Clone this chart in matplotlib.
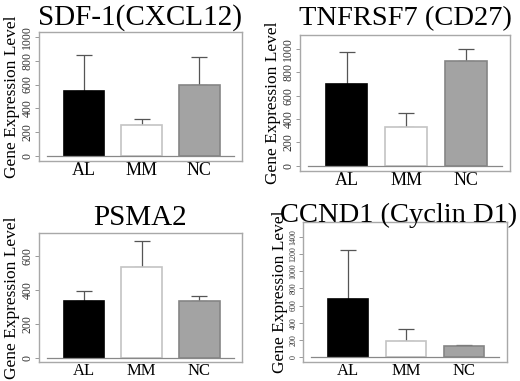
import matplotlib
matplotlib.use("Agg")
import matplotlib.pyplot as plt
import numpy as np

plt.rcParams['font.family'] = ['Liberation Serif', 'DejaVu Serif']

groups = ["AL", "MM", "NC"]

titles = ["SDF-1(CXCL12)", "TNFRSF7 (CD27)", "PSMA2", "CCND1 (Cyclin D1)"]
means = [
    [544, 261, 600],
    [700, 332, 895],
    [331, 536, 335],
    [676, 187, 129],
]
errs = [
    [306, 53, 228],
    [277, 122, 103],
    [61, 150, 25],
    [572, 145, 16],
]
yticks = [
    [0, 200, 400, 600, 800, 1000],
    [0, 200, 400, 600, 800, 1000],
    [0, 200, 400, 600],
    [0, 200, 400, 600, 800, 1000, 1200, 1400],
]
ylims = [(-40, 1040), (-45, 1120), (-26, 734), (-57, 1572)]

fills = ["black", "white", "#a3a3a3"]
edges = ["black", "#c4c4c4", "#858585"]

W, H = 520, 381
# axes boxes in pixels: left, top, right, bottom
boxes = [(39, 32, 242, 161), (300, 35, 510, 171), (39, 233, 242, 362), (303, 222, 507, 362)]
tick_sizes = [8.5, 8.5, 8.5, 5.8]
title_y = [4, 6, 205, 203]
title_x = [140, 405, 140, 399]
title_fs = [21, 20.5, 21, 20.5]
xlab_fs = [13, 13, 12, 12]

fig = plt.figure(figsize=(W / 100, H / 100), dpi=100)

for i in range(4):
    l, t, r, b = boxes[i]
    ax = fig.add_axes([l / W, (H - b) / H, (r - l) / W, (b - t) / H])
    x = np.arange(len(groups))
    ax.bar(x, means[i], width=0.7, color=fills, edgecolor=edges, linewidth=1.2, zorder=2)
    ax.errorbar(x, means[i], yerr=[np.zeros(3), errs[i]], fmt='none',
                ecolor='#555555', elinewidth=0.9, capsize=6, capthick=0.9, zorder=1)
    ax.axhline(0, xmin=0.04, xmax=0.96, color='#888888', lw=0.9, zorder=3)
    ax.set_xlim(-0.78, 2.74)
    ax.set_ylim(*ylims[i])
    ax.set_yticks(yticks[i])
    ax.set_yticklabels([str(v) for v in yticks[i]], rotation=90, va='center',
                       fontsize=tick_sizes[i], color='#333333')
    ax.set_xticks(x)
    ax.set_xticklabels(groups, fontsize=xlab_fs[i])
    ax.tick_params(axis='x', length=0, pad=1)
    ax.tick_params(axis='y', length=3, width=0.7, color='#999999', pad=1)
    for s in ax.spines.values():
        s.set_color('#a8a8a8')
        s.set_linewidth(1.0)
    ax.set_ylabel("Gene Expression Level", fontsize=12.5, labelpad=1)
    fig.text(title_x[i] / W, 1 - title_y[i] / H, titles[i], ha='center', va='top',
             fontsize=title_fs[i])

fig.savefig("out.png", dpi=100)
